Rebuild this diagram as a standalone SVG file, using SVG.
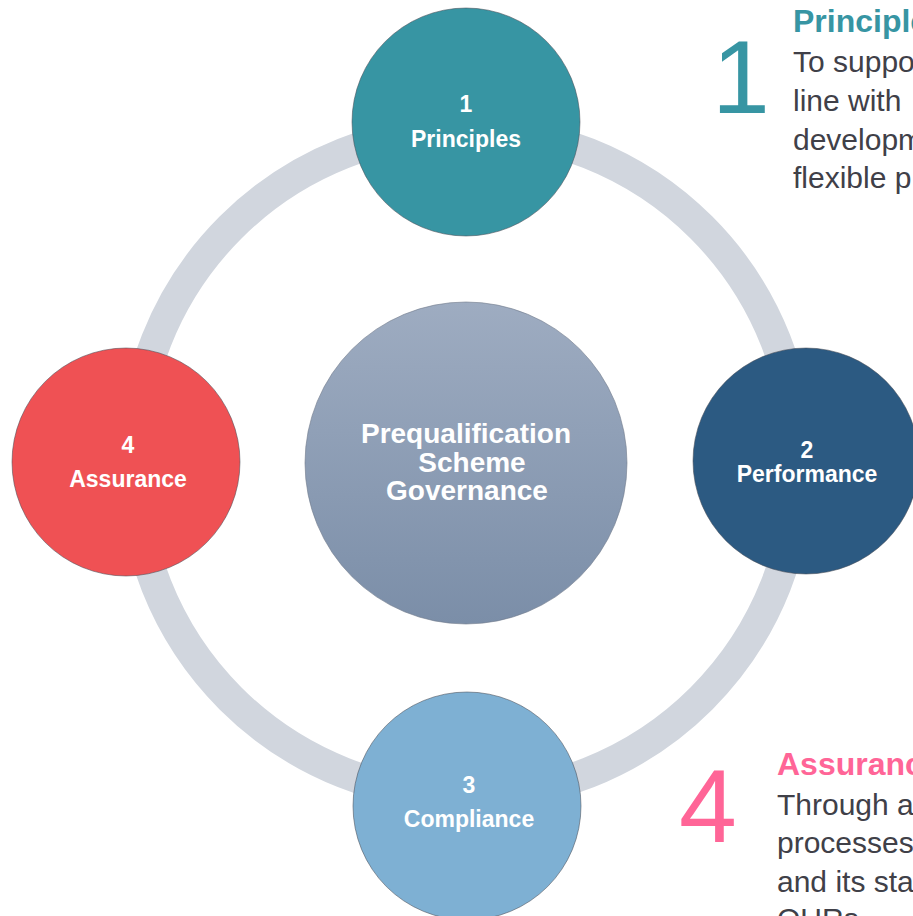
<svg xmlns="http://www.w3.org/2000/svg" width="913" height="916" viewBox="0 0 913 916">
  <defs>
    <linearGradient id="hubFill" x1="0" y1="0" x2="0" y2="1">
      <stop offset="0" stop-color="#9eacc1"/>
      <stop offset="1" stop-color="#7b8ea8"/>
    </linearGradient>
    <style>
      .ring { fill: none; stroke: #d1d6de; stroke-width: 31; }
      .node { stroke: #4a4f57; stroke-width: 1; stroke-opacity: 0.55; }
      .lbl { font-family: "Liberation Sans", Arial, sans-serif; font-weight: bold; fill: #ffffff; text-anchor: middle; font-size: 23px; }
      .hub { font-family: "Liberation Sans", Arial, sans-serif; font-weight: bold; fill: #ffffff; text-anchor: middle; font-size: 28px; }
      .bignum { font-family: "Liberation Sans", Arial, sans-serif; font-size: 104px; }
      .head { font-family: "Liberation Sans", Arial, sans-serif; font-weight: bold; font-size: 32px; }
      .body { font-family: "Liberation Sans", Arial, sans-serif; font-size: 30px; fill: #404048; }
    </style>
  </defs>

  <rect width="913" height="916" fill="#ffffff"/>

  <!-- connecting ring -->
  <g id="connectors">
    <circle class="ring" cx="466" cy="463" r="333"/>
  </g>

  <!-- centre hub -->
  <g id="hub">
    <circle cx="466" cy="463" r="161" fill="url(#hubFill)" stroke="#6f7a8a" stroke-width="1" stroke-opacity="0.6"/>
    <text class="hub" x="466" y="443">Prequalification</text>
    <text class="hub" x="472" y="472">Scheme</text>
    <text class="hub" x="467" y="500">Governance</text>
  </g>

  <g id="node-principles">
    <circle class="node" cx="466" cy="122" r="114" fill="#3795a3"/>
    <text class="lbl" x="466" y="112">1</text>
    <text class="lbl" x="466" y="147">Principles</text>
  </g>

  <g id="node-performance">
    <circle class="node" cx="806" cy="461" r="113" fill="#2c5a82" stroke="#1d2f40"/>
    <text class="lbl" x="807" y="458">2</text>
    <text class="lbl" x="807" y="482">Performance</text>
  </g>

  <g id="node-compliance">
    <circle class="node" cx="467" cy="806" r="114" fill="#7eb0d3"/>
    <text class="lbl" x="469" y="793">3</text>
    <text class="lbl" x="469" y="827">Compliance</text>
  </g>

  <g id="node-assurance">
    <circle class="node" cx="126" cy="462" r="114" fill="#ef5154" stroke="#7a3a60"/>
    <text class="lbl" x="128" y="453">4</text>
    <text class="lbl" x="128" y="487">Assurance</text>
  </g>

  <!-- side notes -->
  <g id="note-principles">
    <text class="bignum" x="741" y="113" text-anchor="middle" fill="#3795a3">1</text>
    <text class="head" x="793" y="32" fill="#3795a3">Principles</text>
    <text class="body" x="793" y="72">To support</text>
    <text class="body" x="793" y="111">line with</text>
    <text class="body" x="793" y="150">development</text>
    <text class="body" x="793" y="188">flexible p</text>
  </g>

  <g id="note-assurance">
    <text class="bignum" x="679" y="842" fill="#ff6597">4</text>
    <text class="head" x="777" y="775" fill="#ff6597">Assurance</text>
    <text class="body" x="777" y="815">Through a</text>
    <text class="body" x="777" y="853">processes</text>
    <text class="body" x="777" y="892">and its sta</text>
    <text class="body" x="777" y="929">OURs</text>
  </g>
</svg>
